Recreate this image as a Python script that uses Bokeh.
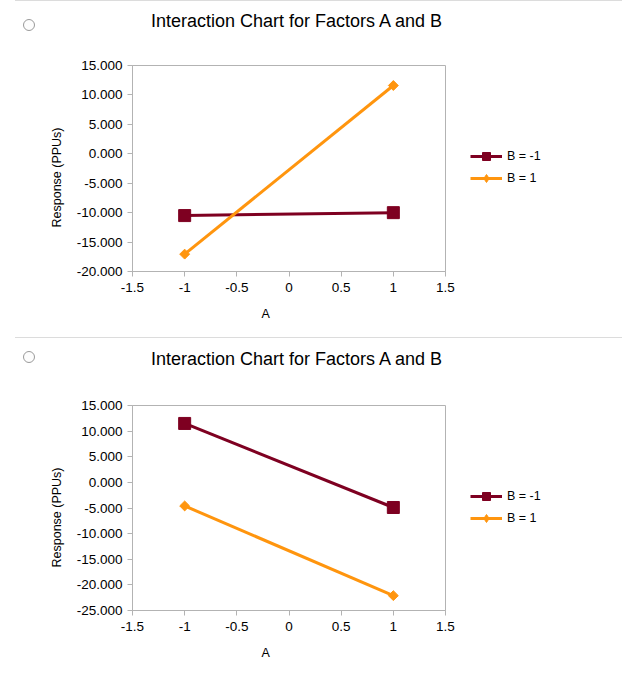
import numpy as np
from bokeh.plotting import figure
from bokeh.models import (Range1d, FixedTicker, NumeralTickFormatter, Legend,
                          LegendItem, Title, Div, Spacer, ColumnDataSource)
from bokeh.layouts import column, row
from bokeh.embed import file_html
from bokeh.resources import INLINE

# ---------------- data ----------------
title_text = "Interaction Chart for Factors A and B"
x_label = "A"
y_label = "Response (PPUs)"
series_names = ["B = -1", "B = 1"]
a_levels = [-1.0, 1.0]

chart1_b_neg = [-10.5, -10.0]
chart1_b_pos = [-17.05, 11.6]
chart2_b_neg = [11.5, -4.9]
chart2_b_pos = [-4.6, -22.1]

x_ticks = [-1.5, -1.0, -0.5, 0.0, 0.5, 1.0, 1.5]
x_tick_labels = ["-1.5", "-1", "-0.5", "0", "0.5", "1", "1.5"]
chart1_y_ticks = [-20, -15, -10, -5, 0, 5, 10, 15]
chart2_y_ticks = [-25, -20, -15, -10, -5, 0, 5, 10, 15]

# ---------------- style ----------------
FONT = "Liberation Sans"
MAROON = "#7E0021"
ORANGE = "#FF950E"
GRAY = "#b3b3b3"
W = 622
MAIN_W = 460
LEG_GAP = 10
LEG_H = 62


def add_series(p, src_neg, src_pos, legend_style=False):
    l1 = p.line("a", "v", source=src_neg, line_color=MAROON, line_width=3)
    m1 = p.scatter("a", "v", source=src_neg, marker="square", size=12,
                   fill_color=MAROON, line_color=MAROON)
    l2 = p.line("a", "v", source=src_pos, line_color=ORANGE, line_width=3)
    if legend_style:
        m2 = p.scatter("a", "v", source=src_pos, marker="diamond", size=12,
                       fill_color=ORANGE, line_color=ORANGE)
    else:
        m2 = p.scatter("a", "v", source=src_pos, marker="square", angle=np.pi / 4, size=7,
                       fill_color=ORANGE, line_color=ORANGE)
    return (l1, m1), (l2, m2)


def make_chart(src_neg, src_pos, y_ticks, height, top, bottom, ylab_offset):
    p = figure(width=MAIN_W, height=height, output_backend="svg", toolbar_location=None,
               x_range=Range1d(x_ticks[0], x_ticks[-1]),
               y_range=Range1d(y_ticks[0], y_ticks[-1]),
               min_border_left=132, min_border_right=15,
               min_border_top=top, min_border_bottom=bottom)
    p.xgrid.visible = False
    p.ygrid.visible = False
    p.outline_line_color = GRAY
    p.outline_line_width = 1
    p.background_fill_color = "white"
    p.border_fill_color = "white"

    for ax in (p.xaxis[0], p.yaxis[0]):
        ax.axis_line_color = GRAY
        ax.major_tick_line_color = GRAY
        ax.minor_tick_line_color = None
        ax.major_tick_in = 0
        ax.major_tick_out = 5
        ax.major_label_text_font = FONT
        ax.major_label_text_font_size = "13.5px"
        ax.major_label_text_color = "black"
    p.xaxis.ticker = FixedTicker(ticks=x_ticks)
    p.xaxis.major_label_overrides = dict(zip(x_ticks, x_tick_labels))
    p.xaxis.major_label_standoff = 6
    p.yaxis.ticker = FixedTicker(ticks=y_ticks)
    p.yaxis.formatter = NumeralTickFormatter(format="0.000")
    p.yaxis.major_label_standoff = 5

    add_series(p, src_neg, src_pos)

    p.add_layout(Title(text=x_label, align="left", offset=129, standoff=21,
                       text_font=FONT, text_font_size="12.5px",
                       text_font_style="normal", text_color="black"), "below")
    p.add_layout(Title(text=y_label, align="left", offset=ylab_offset, standoff=20,
                       text_font=FONT, text_font_size="12.5px",
                       text_font_style="normal", text_color="black"), "left")
    return p


def legend_fig(src_neg, src_pos):
    # the series lie outside this small plot's view; only its legend shows
    q = figure(width=W - MAIN_W - LEG_GAP, height=LEG_H, output_backend="svg",
               toolbar_location=None, title=None,
               x_range=Range1d(x_ticks[-1] + 1, x_ticks[-1] + 2), y_range=Range1d(0, 1),
               x_axis_type=None, y_axis_type=None,
               min_border_left=0, min_border_right=0, min_border_top=0, min_border_bottom=0)
    q.outline_line_color = None
    q.background_fill_color = "white"
    q.border_fill_color = "white"
    (l1, m1), (l2, m2) = add_series(q, src_neg, src_pos, legend_style=True)
    legend = Legend(items=[LegendItem(label=series_names[0], renderers=[l1, m1]),
                           LegendItem(label=series_names[1], renderers=[l2, m2])],
                    location="top_left", padding=10, margin=0,
                    border_line_color=None, background_fill_alpha=0,
                    glyph_width=32, glyph_height=20, label_height=20,
                    label_standoff=5, spacing=2,
                    label_text_font=FONT, label_text_font_size="12.5px",
                    label_text_color="black")
    q.add_layout(legend)
    return q


def chart_row(b_neg, b_pos, y_ticks, height, top, bottom, ylab_offset, legend_top):
    src_neg = ColumnDataSource(dict(a=a_levels, v=b_neg))
    src_pos = ColumnDataSource(dict(a=a_levels, v=b_pos))
    p = make_chart(src_neg, src_pos, y_ticks, height, top, bottom, ylab_offset)
    q = legend_fig(src_neg, src_pos)
    side = column(Spacer(width=W - MAIN_W - LEG_GAP, height=legend_top), q,
                  Spacer(width=W - MAIN_W - LEG_GAP, height=height - legend_top - LEG_H))
    return row(p, Spacer(width=LEG_GAP, height=height), side)


def header(height, radio_top, title_top):
    html = (
        '<div style="position:relative;width:%dpx;height:%dpx;font-family:\'Liberation Sans\';">'
        '<div style="position:absolute;left:15px;top:0px;width:%dpx;border-top:1px solid #dcdcdc;"></div>'
        '<div style="position:absolute;left:23px;top:%dpx;width:12px;height:12px;'
        'border:1px solid #9a9a9a;border-radius:50%%;background:#fdfdfd;"></div>'
        '<div style="position:absolute;left:0px;top:%dpx;width:593px;text-align:center;'
        'font-size:18px;line-height:22px;color:black;">%s</div>'
        '</div>' % (W, height, W - 15, radio_top, title_top, title_text)
    )
    return Div(text=html, width=W, height=height, margin=0)


row1 = chart_row(chart1_b_neg, chart1_b_pos, chart1_y_ticks, 287, 15, 66, 44, 96)
row2 = chart_row(chart2_b_neg, chart2_b_pos, chart2_y_ticks, 298, 17, 76, 43, 98)

layout = column(header(50, 19, 10), row1, header(51, 14, 11), row2)

open("out.html", "w").write(file_html(layout, INLINE))
